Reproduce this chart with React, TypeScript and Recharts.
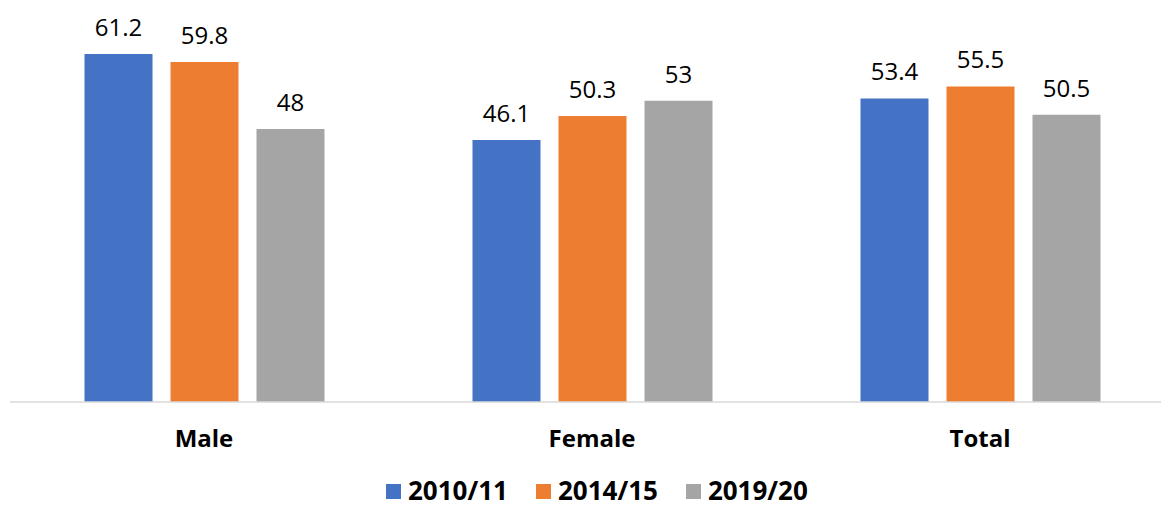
import { BarChart, Bar, XAxis, YAxis, Legend, LabelList } from 'recharts';

const categories = ['Male', 'Female', 'Total'];
const series2010 = [61.2, 46.1, 53.4];
const series2014 = [59.8, 50.3, 55.5];
const series2019 = [48, 53, 50.5];

const seriesList = [
  { key: 'y2010', name: '2010/11', color: '#4472C4', values: series2010 },
  { key: 'y2014', name: '2014/15', color: '#ED7D31', values: series2014 },
  { key: 'y2019', name: '2019/20', color: '#A5A5A5', values: series2019 },
];

const data = categories.map((name, i) => {
  const row: Record<string, string | number> = { name };
  seriesList.forEach((s) => {
    row[s.key] = s.values[i];
  });
  return row;
});

const FONT = '"Open Sans", "Liberation Sans", sans-serif';

function LegendContent() {
  return (
    <div
      style={{
        display: 'flex',
        alignItems: 'center',
        height: 36,
        paddingLeft: 386,
        fontFamily: FONT,
        fontSize: 26,
        fontWeight: 700,
        color: '#000',
      }}
    >
      {seriesList.map((s) => (
        <div key={s.key} style={{ display: 'flex', alignItems: 'center', marginRight: 28 }}>
          <span style={{ width: 15, height: 15, background: s.color, marginRight: 7, marginTop: 3, display: 'inline-block' }} />
          <span style={{ lineHeight: '36px' }}>{s.name}</span>
        </div>
      ))}
    </div>
  );
}

export default function App() {
  return (
    <div style={{ position: 'absolute', left: 0, top: 0, width: 1161, height: 508, overflow: 'hidden', background: '#fff' }}>
      <BarChart
        width={1180}
        height={508}
        data={data}
        margin={{ top: 4, right: 6, bottom: 0, left: 10 }}
        barCategoryGap="19.2%"
        barGap={18}
      >
        <YAxis hide domain={[0, 70]} />
        <XAxis
          dataKey="name"
          height={70}
          tickLine={false}
          axisLine={{ stroke: '#D9D9D9', strokeWidth: 1.5 }}
          tickMargin={22}
          tick={{ fontSize: 24, fontWeight: 700, fill: '#000', fontFamily: FONT }}
        />
        <Legend verticalAlign="bottom" align="left" content={<LegendContent />} wrapperStyle={{ left: 0, width: 1100 }} />
        {seriesList.map((s) => (
          <Bar key={s.key} dataKey={s.key} name={s.name} fill={s.color} isAnimationActive={false}>
            <LabelList dataKey={s.key} position="top" offset={18} style={{ fontSize: 24, fill: '#000', fontFamily: FONT }} />
          </Bar>
        ))}
      </BarChart>
    </div>
  );
}
